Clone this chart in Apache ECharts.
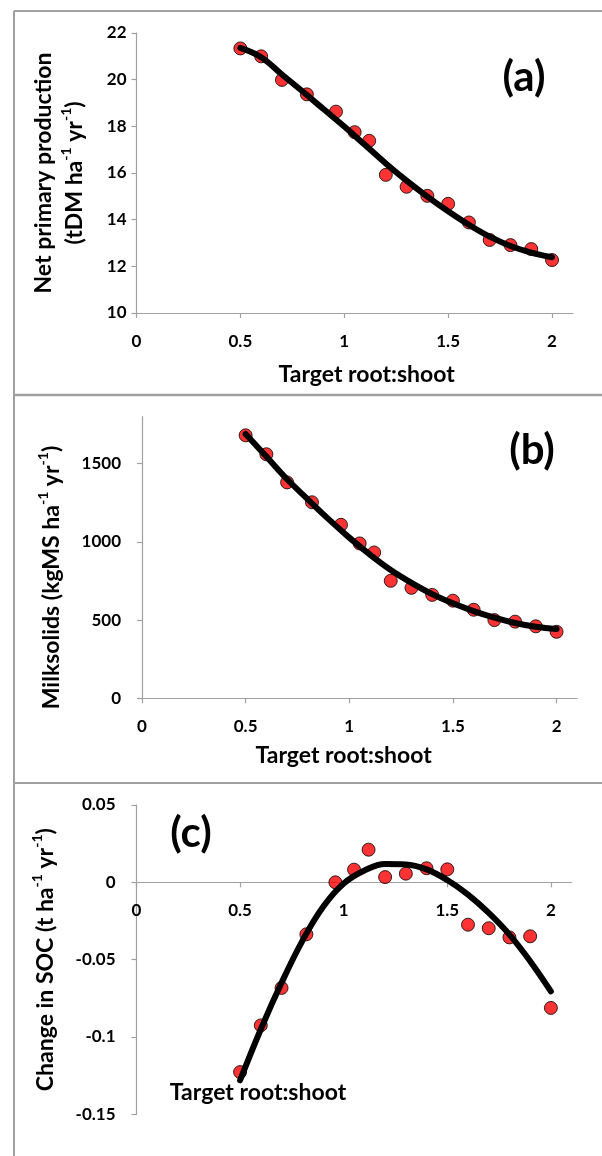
<!DOCTYPE html>
<html><head><meta charset="utf-8">
<script src="https://cdn.jsdelivr.net/npm/echarts@6/dist/echarts.min.js"></script>
<style>html,body{margin:0;padding:0;background:#fff}#c{width:602px;height:1156px}</style>
</head><body><div id="c"></div>
<script>
// ---- data ----
const xVals = [0.5, 0.6, 0.7, 0.82, 0.96, 1.05, 1.12, 1.2, 1.3, 1.4, 1.5, 1.6, 1.7, 1.8, 1.9, 2.0];
const nppVals = [21.34, 21.0, 19.99, 19.37, 18.63, 17.75, 17.38, 15.92, 15.41, 15.02, 14.68, 13.88, 13.13, 12.91, 12.74, 12.27];
const milkVals = [1681, 1560, 1380, 1253, 1109, 990, 932, 751, 706, 661, 624, 566, 500, 490, 460, 425];
const socVals = [-0.1227, -0.0925, -0.0683, -0.0336, 0.0, 0.0082, 0.0211, 0.0034, 0.0056, 0.0091, 0.0084, -0.0274, -0.0297, -0.0356, -0.0349, -0.0812];

const fitX = [0.5, 0.6, 0.7, 0.8, 0.9, 1.0, 1.1, 1.2, 1.3, 1.4, 1.5, 1.6, 1.7, 1.8, 1.9, 2.0];
const nppFit = [21.36, 20.96, 20.22, 19.49, 18.74, 17.99, 17.2, 16.41, 15.67, 14.99, 14.36, 13.78, 13.27, 12.87, 12.59, 12.39];
const milkFit = [1690, 1545, 1400, 1272, 1145, 1027, 918, 820, 738, 666, 607, 557, 515, 481, 457, 443];
const socFit = [-0.128, -0.095, -0.065, -0.038, -0.016, -0.0008, 0.0076, 0.0118, 0.0116, 0.0084, 0.0015, -0.008, -0.0198, -0.0338, -0.051, -0.0705];

const xTicks = [0, 0.5, 1, 1.5, 2];
const nppTicks = [10, 12, 14, 16, 18, 20, 22];
const milkTicks = [0, 500, 1000, 1500];
const socTicks = [-0.15, -0.1, -0.05, 0, 0.05];

const xTitle = 'Target root:shoot';
const panelLabels = ['(a)', '(b)', '(c)'];

// ---- styling ----
const FONT = 'Lato';
const AXIS_COLOR = '#a0a0a0';
const TXT = '#000';

function pairs(xs, ys) { return xs.map((x, i) => [x, ys[i]]); }
const plain = v => String(+v.toFixed(4));

const rich = {
  b: { fontFamily: FONT, fontWeight: 'bold', fontSize: 23, color: TXT, lineHeight: 31 },
  s: { fontFamily: FONT, fontWeight: 'bold', fontSize: 14, color: TXT, lineHeight: 18, verticalAlign: 'top' }
};

function xAxis(gi, opts) {
  return Object.assign({
    type: 'value', gridIndex: gi, min: 0, max: 2.1,
    axisLine: { onZero: false, lineStyle: { color: AXIS_COLOR, width: 1.2 } },
    axisTick: { show: true, length: 5, lineStyle: { color: AXIS_COLOR, width: 1.2 }, customValues: xTicks },
    axisLabel: { customValues: xTicks, formatter: plain, margin: 20, fontFamily: FONT, fontWeight: 'bold', fontSize: 17, color: TXT },
    splitLine: { show: false },
    nameTextStyle: { fontFamily: FONT, fontWeight: 'bold', fontSize: 23, color: TXT }
  }, opts);
}
function yAxis(gi, min, max, ticks, margin, opts) {
  return Object.assign({
    type: 'value', gridIndex: gi, min: min, max: max,
    axisLine: { show: true, onZero: false, lineStyle: { color: AXIS_COLOR, width: 1.2 } },
    axisTick: { show: true, length: 5, lineStyle: { color: AXIS_COLOR, width: 1.2 }, customValues: ticks },
    axisLabel: { customValues: ticks, formatter: plain, margin: margin, fontFamily: FONT, fontWeight: 'bold', fontSize: 17, color: TXT },
    splitLine: { show: false },
    nameLocation: 'middle', nameRotate: 90
  }, opts);
}

const scatterStyle = { color: '#ff0000', borderColor: '#000', borderWidth: 1 };
function scatter(gi, ys) {
  return { type: 'scatter', xAxisIndex: gi, yAxisIndex: gi, data: pairs(xVals, ys), symbolSize: 13, itemStyle: scatterStyle, z: 2 };
}
function fit(gi, ys) {
  return { type: 'line', xAxisIndex: gi, yAxisIndex: gi, data: pairs(fitX, ys), smooth: 0.4, showSymbol: false,
           lineStyle: { color: '#000', width: 6, cap: 'round' }, z: 3 };
}

// panel (c): x axis crosses the y axis at 0 -> shift it up from the grid bottom
const gridC = { left: 136.5, top: 805, width: 435.1, height: 309.3 };
const socMin = -0.15, socMax = 0.05;
const zeroOffset = -gridC.height * (0 - socMin) / (socMax - socMin);

const chart = echarts.init(document.getElementById('c'), null, { renderer: 'canvas' });
chart.setOption({
  backgroundColor: '#fff',
  animation: false,
  grid: [
    { left: 136.5, top: 33, width: 436.3, height: 280 },
    { left: 142, top: 416.7, width: 435.3, height: 281.6 },
    gridC
  ],
  xAxis: [
    xAxis(0, { name: xTitle, nameLocation: 'middle', nameGap: 50, nameTextStyle: { fontFamily: FONT, fontWeight: 'bold', fontSize: 23, color: TXT, padding: [0, 0, 0, 24] } }),
    xAxis(1, { name: xTitle, nameLocation: 'middle', nameGap: 46, nameTextStyle: { fontFamily: FONT, fontWeight: 'bold', fontSize: 23, color: TXT, padding: [0, 32, 0, 0] } }),
    xAxis(2, { offset: zeroOffset })
  ],
  yAxis: [
    yAxis(0, 10, 22, nppTicks, 10, {
      name: '{b|Net primary production}\n{b|(tDM ha}{s|-1}{b| yr}{s|-1}{b|)}',
      nameGap: 46, nameTextStyle: { rich: rich, align: 'center' }
    }),
    yAxis(1, 0, 1800, milkTicks, 21, {
      name: '{b|Milksolids (kgMS ha}{s|-1}{b| yr}{s|-1}{b|)}',
      nameGap: 75, nameTextStyle: { rich: rich, padding: [0, 40, 0, 0] }
    }),
    yAxis(2, socMin, socMax, socTicks, 21, {
      name: '{b|Change in SOC (t ha}{s|-1}{b| yr}{s|-1}{b|)}',
      nameGap: 75, nameTextStyle: { rich: rich }
    })
  ],
  graphic: [
    { type: 'line', shape: { x1: 14, y1: 11, x2: 14, y2: 1156 }, style: { stroke: AXIS_COLOR, lineWidth: 2 } },
    { type: 'line', shape: { x1: 14, y1: 11, x2: 602, y2: 11 }, style: { stroke: AXIS_COLOR, lineWidth: 2 } },
    { type: 'line', shape: { x1: 14, y1: 395, x2: 602, y2: 395 }, style: { stroke: AXIS_COLOR, lineWidth: 2.5 } },
    { type: 'line', shape: { x1: 14, y1: 783, x2: 602, y2: 783 }, style: { stroke: AXIS_COLOR, lineWidth: 2 } },
    { type: 'text', x: 524, y: 77, style: { text: panelLabels[0], font: 'bold 42px Lato', fill: TXT, textAlign: 'center', textVerticalAlign: 'middle' } },
    { type: 'text', x: 532, y: 450, style: { text: panelLabels[1], font: 'bold 42px Lato', fill: TXT, textAlign: 'center', textVerticalAlign: 'middle' } },
    { type: 'text', x: 191, y: 833, style: { text: panelLabels[2], font: 'bold 42px Lato', fill: TXT, textAlign: 'center', textVerticalAlign: 'middle' } },
    { type: 'text', x: 258, y: 1093, style: { text: xTitle, font: 'bold 23px Lato', fill: TXT, textAlign: 'center', textVerticalAlign: 'middle' } }
  ],
  series: [
    scatter(0, nppVals), fit(0, nppFit),
    scatter(1, milkVals), fit(1, milkFit),
    scatter(2, socVals), fit(2, socFit)
  ]
});
</script>
</body></html>
